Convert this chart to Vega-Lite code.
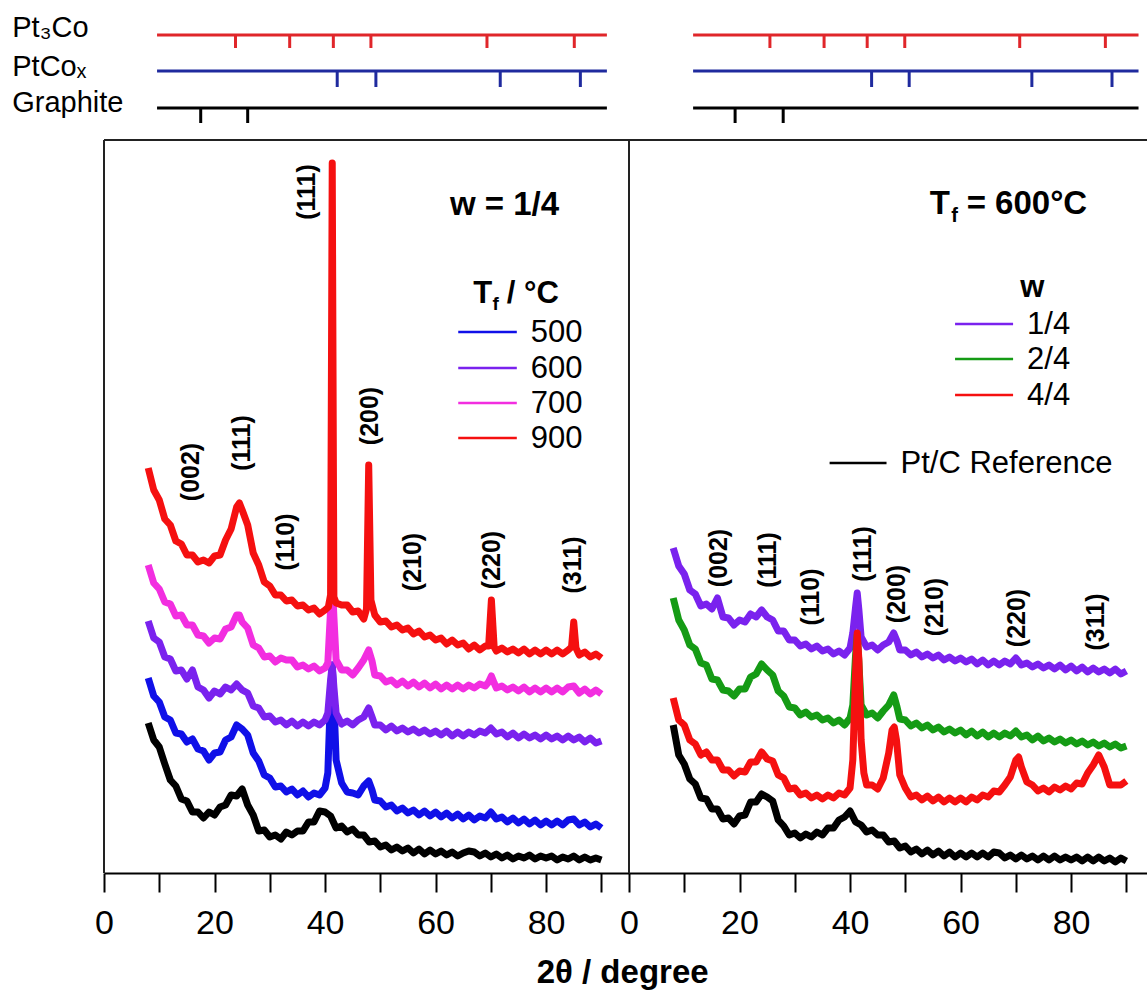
{
"$schema":"https://vega.github.io/schema/vega-lite/v6.json",
"padding":{"left":12,"top":0,"right":0,"bottom":0},
"bounds":"flush",
"spacing":0,
"title":{"text":"2θ / degree","orient":"bottom","anchor":"middle","font":"Liberation Sans","fontSize":33,"fontWeight":"bold","color":"#000","offset":17,"dx":39},
"config":{"view":{"stroke":null},"font":"Liberation Sans",
 "axisX":{"domainColor":"#000","domainWidth":2,"tickColor":"#000","tickWidth":2,"tickSize":19,"labelFont":"Liberation Sans","labelFontSize":34,"labelColor":"#000","labelPadding":14,"grid":false,"labelFlush":false,"labelOverlap":false,"title":null}},
"datasets":{
"left":[
{"s":"Pt/C","x":8,"y":152},{"s":"Pt/C","x":9,"y":135},{"s":"Pt/C","x":10,"y":128},{"s":"Pt/C","x":11,"y":111},{"s":"Pt/C","x":12,"y":95},{"s":"Pt/C","x":13,"y":89},{"s":"Pt/C","x":14,"y":76},{"s":"Pt/C","x":15,"y":74},{"s":"Pt/C","x":16,"y":63},{"s":"Pt/C","x":17,"y":63},{"s":"Pt/C","x":18,"y":57},{"s":"Pt/C","x":19,"y":63},{"s":"Pt/C","x":20,"y":60},{"s":"Pt/C","x":21,"y":68},{"s":"Pt/C","x":22,"y":70},{"s":"Pt/C","x":23,"y":80},{"s":"Pt/C","x":24,"y":79},{"s":"Pt/C","x":25,"y":86},{"s":"Pt/C","x":26,"y":70},{"s":"Pt/C","x":27,"y":60},{"s":"Pt/C","x":28,"y":44},{"s":"Pt/C","x":29,"y":45},{"s":"Pt/C","x":30,"y":38},{"s":"Pt/C","x":31,"y":40},{"s":"Pt/C","x":32,"y":36},{"s":"Pt/C","x":33,"y":43},{"s":"Pt/C","x":34,"y":40},{"s":"Pt/C","x":35,"y":44},{"s":"Pt/C","x":36,"y":44},{"s":"Pt/C","x":37,"y":53},{"s":"Pt/C","x":38,"y":53},{"s":"Pt/C","x":39,"y":64},{"s":"Pt/C","x":40,"y":63},{"s":"Pt/C","x":41,"y":59},{"s":"Pt/C","x":42,"y":47},{"s":"Pt/C","x":43,"y":49},{"s":"Pt/C","x":44,"y":43},{"s":"Pt/C","x":45,"y":46},{"s":"Pt/C","x":46,"y":40},{"s":"Pt/C","x":47,"y":40},{"s":"Pt/C","x":48,"y":33},{"s":"Pt/C","x":49,"y":34},{"s":"Pt/C","x":50,"y":28},{"s":"Pt/C","x":51,"y":30},{"s":"Pt/C","x":52,"y":25},{"s":"Pt/C","x":53,"y":28},{"s":"Pt/C","x":54,"y":24},{"s":"Pt/C","x":55,"y":27},{"s":"Pt/C","x":56,"y":22},{"s":"Pt/C","x":57,"y":26},{"s":"Pt/C","x":58,"y":21},{"s":"Pt/C","x":59,"y":25},{"s":"Pt/C","x":60,"y":21},{"s":"Pt/C","x":61,"y":24},{"s":"Pt/C","x":62,"y":20},{"s":"Pt/C","x":63,"y":23},{"s":"Pt/C","x":64,"y":19},{"s":"Pt/C","x":65,"y":22},{"s":"Pt/C","x":66,"y":24},{"s":"Pt/C","x":67,"y":23},{"s":"Pt/C","x":68,"y":19},{"s":"Pt/C","x":69,"y":22},{"s":"Pt/C","x":70,"y":18},{"s":"Pt/C","x":71,"y":21},{"s":"Pt/C","x":72,"y":17},{"s":"Pt/C","x":73,"y":20},{"s":"Pt/C","x":74,"y":16},{"s":"Pt/C","x":75,"y":19},{"s":"Pt/C","x":76,"y":17},{"s":"Pt/C","x":77,"y":20},{"s":"Pt/C","x":78,"y":16},{"s":"Pt/C","x":79,"y":19},{"s":"Pt/C","x":80,"y":17},{"s":"Pt/C","x":81,"y":19},{"s":"Pt/C","x":82,"y":15},{"s":"Pt/C","x":83,"y":18},{"s":"Pt/C","x":84,"y":16},{"s":"Pt/C","x":85,"y":19},{"s":"Pt/C","x":86,"y":15},{"s":"Pt/C","x":87,"y":18},{"s":"Pt/C","x":88,"y":15},{"s":"Pt/C","x":89,"y":17},{"s":"Pt/C","x":90,"y":15},
{"s":"T500","x":8,"y":197},{"s":"T500","x":9,"y":179},{"s":"T500","x":10,"y":173},{"s":"T500","x":11,"y":158},{"s":"T500","x":12,"y":155},{"s":"T500","x":13,"y":142},{"s":"T500","x":14,"y":141},{"s":"T500","x":15,"y":133},{"s":"T500","x":16,"y":136},{"s":"T500","x":17,"y":126},{"s":"T500","x":18,"y":124},{"s":"T500","x":19,"y":115},{"s":"T500","x":20,"y":122},{"s":"T500","x":21,"y":123},{"s":"T500","x":22,"y":135},{"s":"T500","x":23,"y":138},{"s":"T500","x":24,"y":150},{"s":"T500","x":25,"y":146},{"s":"T500","x":26,"y":140},{"s":"T500","x":27,"y":122},{"s":"T500","x":28,"y":114},{"s":"T500","x":29,"y":100},{"s":"T500","x":30,"y":97},{"s":"T500","x":31,"y":88},{"s":"T500","x":32,"y":89},{"s":"T500","x":33,"y":83},{"s":"T500","x":34,"y":86},{"s":"T500","x":35,"y":80},{"s":"T500","x":36,"y":84},{"s":"T500","x":37,"y":78},{"s":"T500","x":38,"y":82},{"s":"T500","x":39,"y":80},{"s":"T500","x":40,"y":87},{"s":"T500","x":40.5,"y":102},{"s":"T500","x":41.0,"y":182},{"s":"T500","x":41.3,"y":210},{"s":"T500","x":41.6,"y":175},{"s":"T500","x":42.0,"y":115},{"s":"T500","x":43,"y":92},{"s":"T500","x":44,"y":83},{"s":"T500","x":45,"y":82},{"s":"T500","x":46,"y":80},{"s":"T500","x":47,"y":89},{"s":"T500","x":47.9,"y":94},{"s":"T500","x":48.5,"y":85},{"s":"T500","x":49,"y":75},{"s":"T500","x":50,"y":74},{"s":"T500","x":51,"y":68},{"s":"T500","x":52,"y":70},{"s":"T500","x":53,"y":64},{"s":"T500","x":54,"y":67},{"s":"T500","x":55,"y":62},{"s":"T500","x":56,"y":65},{"s":"T500","x":57,"y":60},{"s":"T500","x":58,"y":64},{"s":"T500","x":59,"y":59},{"s":"T500","x":60,"y":63},{"s":"T500","x":61,"y":58},{"s":"T500","x":62,"y":62},{"s":"T500","x":63,"y":57},{"s":"T500","x":64,"y":61},{"s":"T500","x":65,"y":56},{"s":"T500","x":66,"y":60},{"s":"T500","x":67,"y":55},{"s":"T500","x":68,"y":59},{"s":"T500","x":69,"y":57},{"s":"T500","x":70,"y":63},{"s":"T500","x":71,"y":56},{"s":"T500","x":72,"y":58},{"s":"T500","x":73,"y":53},{"s":"T500","x":74,"y":57},{"s":"T500","x":75,"y":52},{"s":"T500","x":76,"y":56},{"s":"T500","x":77,"y":51},{"s":"T500","x":78,"y":55},{"s":"T500","x":79,"y":50},{"s":"T500","x":80,"y":54},{"s":"T500","x":81,"y":50},{"s":"T500","x":82,"y":54},{"s":"T500","x":83,"y":50},{"s":"T500","x":84,"y":55},{"s":"T500","x":85,"y":56},{"s":"T500","x":86,"y":50},{"s":"T500","x":87,"y":53},{"s":"T500","x":88,"y":48},{"s":"T500","x":89,"y":51},{"s":"T500","x":90,"y":47},
{"s":"T600","x":8,"y":254},{"s":"T600","x":9,"y":237},{"s":"T600","x":10,"y":233},{"s":"T600","x":11,"y":218},{"s":"T600","x":12,"y":216},{"s":"T600","x":13,"y":204},{"s":"T600","x":14,"y":205},{"s":"T600","x":15,"y":196},{"s":"T600","x":16,"y":205},{"s":"T600","x":17,"y":188},{"s":"T600","x":18,"y":185},{"s":"T600","x":19,"y":177},{"s":"T600","x":20,"y":184},{"s":"T600","x":21,"y":181},{"s":"T600","x":22,"y":188},{"s":"T600","x":23,"y":185},{"s":"T600","x":24,"y":191},{"s":"T600","x":25,"y":185},{"s":"T600","x":26,"y":182},{"s":"T600","x":27,"y":169},{"s":"T600","x":28,"y":167},{"s":"T600","x":29,"y":158},{"s":"T600","x":30,"y":159},{"s":"T600","x":31,"y":153},{"s":"T600","x":32,"y":155},{"s":"T600","x":33,"y":150},{"s":"T600","x":34,"y":154},{"s":"T600","x":35,"y":149},{"s":"T600","x":36,"y":153},{"s":"T600","x":37,"y":149},{"s":"T600","x":38,"y":153},{"s":"T600","x":39,"y":150},{"s":"T600","x":40,"y":155},{"s":"T600","x":40.5,"y":162},{"s":"T600","x":41.0,"y":195},{"s":"T600","x":41.3,"y":210},{"s":"T600","x":41.6,"y":188},{"s":"T600","x":42.0,"y":162},{"s":"T600","x":43,"y":151},{"s":"T600","x":44,"y":154},{"s":"T600","x":45,"y":150},{"s":"T600","x":46,"y":155},{"s":"T600","x":47,"y":158},{"s":"T600","x":47.9,"y":167},{"s":"T600","x":48.5,"y":158},{"s":"T600","x":49,"y":150},{"s":"T600","x":50,"y":150},{"s":"T600","x":51,"y":145},{"s":"T600","x":52,"y":149},{"s":"T600","x":53,"y":144},{"s":"T600","x":54,"y":147},{"s":"T600","x":55,"y":143},{"s":"T600","x":56,"y":146},{"s":"T600","x":57,"y":142},{"s":"T600","x":58,"y":145},{"s":"T600","x":59,"y":141},{"s":"T600","x":60,"y":144},{"s":"T600","x":61,"y":140},{"s":"T600","x":62,"y":144},{"s":"T600","x":63,"y":139},{"s":"T600","x":64,"y":143},{"s":"T600","x":65,"y":139},{"s":"T600","x":66,"y":143},{"s":"T600","x":67,"y":140},{"s":"T600","x":68,"y":144},{"s":"T600","x":69,"y":142},{"s":"T600","x":70,"y":147},{"s":"T600","x":71,"y":141},{"s":"T600","x":72,"y":143},{"s":"T600","x":73,"y":138},{"s":"T600","x":74,"y":142},{"s":"T600","x":75,"y":137},{"s":"T600","x":76,"y":141},{"s":"T600","x":77,"y":137},{"s":"T600","x":78,"y":140},{"s":"T600","x":79,"y":136},{"s":"T600","x":80,"y":140},{"s":"T600","x":81,"y":136},{"s":"T600","x":82,"y":139},{"s":"T600","x":83,"y":135},{"s":"T600","x":84,"y":139},{"s":"T600","x":85,"y":135},{"s":"T600","x":86,"y":138},{"s":"T600","x":87,"y":133},{"s":"T600","x":88,"y":137},{"s":"T600","x":89,"y":132},{"s":"T600","x":90,"y":134},
{"s":"T700","x":8,"y":310},{"s":"T700","x":9,"y":292},{"s":"T700","x":10,"y":286},{"s":"T700","x":11,"y":273},{"s":"T700","x":12,"y":271},{"s":"T700","x":13,"y":259},{"s":"T700","x":14,"y":260},{"s":"T700","x":15,"y":250},{"s":"T700","x":16,"y":250},{"s":"T700","x":17,"y":240},{"s":"T700","x":18,"y":239},{"s":"T700","x":19,"y":232},{"s":"T700","x":20,"y":237},{"s":"T700","x":21,"y":236},{"s":"T700","x":22,"y":246},{"s":"T700","x":23,"y":248},{"s":"T700","x":24,"y":260},{"s":"T700","x":24.5,"y":260},{"s":"T700","x":25,"y":253},{"s":"T700","x":26,"y":247},{"s":"T700","x":27,"y":230},{"s":"T700","x":28,"y":227},{"s":"T700","x":29,"y":218},{"s":"T700","x":30,"y":219},{"s":"T700","x":31,"y":213},{"s":"T700","x":32,"y":217},{"s":"T700","x":33,"y":215},{"s":"T700","x":34,"y":215},{"s":"T700","x":35,"y":208},{"s":"T700","x":36,"y":210},{"s":"T700","x":37,"y":206},{"s":"T700","x":38,"y":209},{"s":"T700","x":39,"y":204},{"s":"T700","x":40,"y":207},{"s":"T700","x":40.5,"y":212},{"s":"T700","x":41.0,"y":265},{"s":"T700","x":41.3,"y":295},{"s":"T700","x":41.6,"y":258},{"s":"T700","x":42.0,"y":215},{"s":"T700","x":43,"y":205},{"s":"T700","x":44,"y":205},{"s":"T700","x":45,"y":200},{"s":"T700","x":46,"y":207},{"s":"T700","x":47,"y":215},{"s":"T700","x":47.9,"y":225},{"s":"T700","x":48.5,"y":214},{"s":"T700","x":49,"y":200},{"s":"T700","x":50,"y":199},{"s":"T700","x":51,"y":193},{"s":"T700","x":52,"y":195},{"s":"T700","x":53,"y":190},{"s":"T700","x":54,"y":194},{"s":"T700","x":55,"y":189},{"s":"T700","x":56,"y":193},{"s":"T700","x":57,"y":188},{"s":"T700","x":58,"y":192},{"s":"T700","x":59,"y":187},{"s":"T700","x":60,"y":191},{"s":"T700","x":61,"y":186},{"s":"T700","x":62,"y":190},{"s":"T700","x":63,"y":186},{"s":"T700","x":64,"y":190},{"s":"T700","x":65,"y":186},{"s":"T700","x":66,"y":190},{"s":"T700","x":67,"y":187},{"s":"T700","x":68,"y":191},{"s":"T700","x":69,"y":189},{"s":"T700","x":69.6,"y":193},{"s":"T700","x":70.1,"y":199},{"s":"T700","x":70.6,"y":192},{"s":"T700","x":71,"y":187},{"s":"T700","x":72,"y":189},{"s":"T700","x":73,"y":185},{"s":"T700","x":74,"y":188},{"s":"T700","x":75,"y":184},{"s":"T700","x":76,"y":188},{"s":"T700","x":77,"y":183},{"s":"T700","x":78,"y":187},{"s":"T700","x":79,"y":183},{"s":"T700","x":80,"y":187},{"s":"T700","x":81,"y":183},{"s":"T700","x":82,"y":187},{"s":"T700","x":83,"y":183},{"s":"T700","x":84,"y":188},{"s":"T700","x":85,"y":189},{"s":"T700","x":86,"y":182},{"s":"T700","x":87,"y":186},{"s":"T700","x":88,"y":181},{"s":"T700","x":89,"y":185},{"s":"T700","x":90,"y":181},
{"s":"T900","x":8,"y":407},{"s":"T900","x":9,"y":385},{"s":"T900","x":10,"y":375},{"s":"T900","x":11,"y":356},{"s":"T900","x":12,"y":350},{"s":"T900","x":13,"y":334},{"s":"T900","x":14,"y":331},{"s":"T900","x":15,"y":320},{"s":"T900","x":16,"y":320},{"s":"T900","x":17,"y":313},{"s":"T900","x":18,"y":315},{"s":"T900","x":19,"y":312},{"s":"T900","x":20,"y":319},{"s":"T900","x":21,"y":320},{"s":"T900","x":22,"y":335},{"s":"T900","x":23,"y":346},{"s":"T900","x":24,"y":368},{"s":"T900","x":24.5,"y":372},{"s":"T900","x":25,"y":365},{"s":"T900","x":26,"y":350},{"s":"T900","x":27,"y":322},{"s":"T900","x":28,"y":310},{"s":"T900","x":29,"y":293},{"s":"T900","x":30,"y":289},{"s":"T900","x":31,"y":280},{"s":"T900","x":32,"y":280},{"s":"T900","x":33,"y":274},{"s":"T900","x":34,"y":275},{"s":"T900","x":35,"y":269},{"s":"T900","x":36,"y":270},{"s":"T900","x":37,"y":265},{"s":"T900","x":38,"y":267},{"s":"T900","x":39,"y":261},{"s":"T900","x":40,"y":265},{"s":"T900","x":40.6,"y":268},{"s":"T900","x":41.0,"y":280},{"s":"T900","x":41.3,"y":712},{"s":"T900","x":41.6,"y":278},{"s":"T900","x":42.0,"y":272},{"s":"T900","x":43,"y":270},{"s":"T900","x":44,"y":270},{"s":"T900","x":45,"y":263},{"s":"T900","x":46,"y":264},{"s":"T900","x":47,"y":256},{"s":"T900","x":47.5,"y":266},{"s":"T900","x":47.9,"y":410},{"s":"T900","x":48.3,"y":275},{"s":"T900","x":49,"y":260},{"s":"T900","x":50,"y":253},{"s":"T900","x":51,"y":254},{"s":"T900","x":52,"y":248},{"s":"T900","x":53,"y":250},{"s":"T900","x":54,"y":245},{"s":"T900","x":55,"y":247},{"s":"T900","x":56,"y":241},{"s":"T900","x":57,"y":244},{"s":"T900","x":58,"y":238},{"s":"T900","x":59,"y":240},{"s":"T900","x":60,"y":235},{"s":"T900","x":61,"y":237},{"s":"T900","x":62,"y":231},{"s":"T900","x":63,"y":235},{"s":"T900","x":64,"y":230},{"s":"T900","x":65,"y":232},{"s":"T900","x":66,"y":226},{"s":"T900","x":67,"y":230},{"s":"T900","x":68,"y":225},{"s":"T900","x":69,"y":229},{"s":"T900","x":69.6,"y":229},{"s":"T900","x":70.1,"y":275},{"s":"T900","x":70.6,"y":228},{"s":"T900","x":71,"y":224},{"s":"T900","x":72,"y":227},{"s":"T900","x":73,"y":223},{"s":"T900","x":74,"y":226},{"s":"T900","x":75,"y":222},{"s":"T900","x":76,"y":226},{"s":"T900","x":77,"y":221},{"s":"T900","x":78,"y":225},{"s":"T900","x":79,"y":221},{"s":"T900","x":80,"y":225},{"s":"T900","x":81,"y":221},{"s":"T900","x":82,"y":225},{"s":"T900","x":83,"y":221},{"s":"T900","x":84,"y":225},{"s":"T900","x":84.6,"y":228},{"s":"T900","x":85.0,"y":253},{"s":"T900","x":85.4,"y":227},{"s":"T900","x":86,"y":220},{"s":"T900","x":87,"y":223},{"s":"T900","x":88,"y":218},{"s":"T900","x":89,"y":221},{"s":"T900","x":90,"y":217}
],
"right":[
{"s":"Pt/C","x":8,"y":150},{"s":"Pt/C","x":9,"y":120},{"s":"Pt/C","x":10,"y":111},{"s":"Pt/C","x":11,"y":96},{"s":"Pt/C","x":12,"y":91},{"s":"Pt/C","x":13,"y":77},{"s":"Pt/C","x":14,"y":76},{"s":"Pt/C","x":15,"y":66},{"s":"Pt/C","x":16,"y":66},{"s":"Pt/C","x":17,"y":56},{"s":"Pt/C","x":18,"y":57},{"s":"Pt/C","x":19,"y":51},{"s":"Pt/C","x":20,"y":59},{"s":"Pt/C","x":21,"y":60},{"s":"Pt/C","x":22,"y":73},{"s":"Pt/C","x":23,"y":73},{"s":"Pt/C","x":24,"y":81},{"s":"Pt/C","x":25,"y":78},{"s":"Pt/C","x":26,"y":74},{"s":"Pt/C","x":27,"y":55},{"s":"Pt/C","x":28,"y":49},{"s":"Pt/C","x":29,"y":40},{"s":"Pt/C","x":30,"y":42},{"s":"Pt/C","x":31,"y":37},{"s":"Pt/C","x":32,"y":41},{"s":"Pt/C","x":33,"y":38},{"s":"Pt/C","x":34,"y":43},{"s":"Pt/C","x":35,"y":40},{"s":"Pt/C","x":36,"y":47},{"s":"Pt/C","x":37,"y":47},{"s":"Pt/C","x":38,"y":55},{"s":"Pt/C","x":39,"y":58},{"s":"Pt/C","x":40,"y":64},{"s":"Pt/C","x":41,"y":53},{"s":"Pt/C","x":42,"y":50},{"s":"Pt/C","x":43,"y":43},{"s":"Pt/C","x":44,"y":45},{"s":"Pt/C","x":45,"y":40},{"s":"Pt/C","x":46,"y":40},{"s":"Pt/C","x":47,"y":33},{"s":"Pt/C","x":48,"y":34},{"s":"Pt/C","x":49,"y":27},{"s":"Pt/C","x":50,"y":29},{"s":"Pt/C","x":51,"y":23},{"s":"Pt/C","x":52,"y":26},{"s":"Pt/C","x":53,"y":21},{"s":"Pt/C","x":54,"y":25},{"s":"Pt/C","x":55,"y":20},{"s":"Pt/C","x":56,"y":24},{"s":"Pt/C","x":57,"y":19},{"s":"Pt/C","x":58,"y":23},{"s":"Pt/C","x":59,"y":18},{"s":"Pt/C","x":60,"y":22},{"s":"Pt/C","x":61,"y":18},{"s":"Pt/C","x":62,"y":22},{"s":"Pt/C","x":63,"y":18},{"s":"Pt/C","x":64,"y":22},{"s":"Pt/C","x":65,"y":18},{"s":"Pt/C","x":66,"y":23},{"s":"Pt/C","x":67,"y":22},{"s":"Pt/C","x":68,"y":17},{"s":"Pt/C","x":69,"y":20},{"s":"Pt/C","x":70,"y":16},{"s":"Pt/C","x":71,"y":20},{"s":"Pt/C","x":72,"y":16},{"s":"Pt/C","x":73,"y":19},{"s":"Pt/C","x":74,"y":15},{"s":"Pt/C","x":75,"y":19},{"s":"Pt/C","x":76,"y":15},{"s":"Pt/C","x":77,"y":19},{"s":"Pt/C","x":78,"y":15},{"s":"Pt/C","x":79,"y":18},{"s":"Pt/C","x":80,"y":15},{"s":"Pt/C","x":81,"y":18},{"s":"Pt/C","x":82,"y":14},{"s":"Pt/C","x":83,"y":18},{"s":"Pt/C","x":84,"y":14},{"s":"Pt/C","x":85,"y":18},{"s":"Pt/C","x":86,"y":14},{"s":"Pt/C","x":87,"y":17},{"s":"Pt/C","x":88,"y":13},{"s":"Pt/C","x":89,"y":17},{"s":"Pt/C","x":90,"y":14},
{"s":"w1/4","x":8,"y":327},{"s":"w1/4","x":9,"y":309},{"s":"w1/4","x":10,"y":301},{"s":"w1/4","x":11,"y":285},{"s":"w1/4","x":12,"y":281},{"s":"w1/4","x":13,"y":269},{"s":"w1/4","x":14,"y":271},{"s":"w1/4","x":15,"y":266},{"s":"w1/4","x":16,"y":277},{"s":"w1/4","x":17,"y":258},{"s":"w1/4","x":18,"y":257},{"s":"w1/4","x":19,"y":250},{"s":"w1/4","x":20,"y":255},{"s":"w1/4","x":21,"y":253},{"s":"w1/4","x":22,"y":261},{"s":"w1/4","x":23,"y":258},{"s":"w1/4","x":24,"y":265},{"s":"w1/4","x":25,"y":258},{"s":"w1/4","x":26,"y":255},{"s":"w1/4","x":27,"y":244},{"s":"w1/4","x":28,"y":244},{"s":"w1/4","x":29,"y":235},{"s":"w1/4","x":30,"y":235},{"s":"w1/4","x":31,"y":229},{"s":"w1/4","x":32,"y":231},{"s":"w1/4","x":33,"y":226},{"s":"w1/4","x":34,"y":229},{"s":"w1/4","x":35,"y":224},{"s":"w1/4","x":36,"y":226},{"s":"w1/4","x":37,"y":221},{"s":"w1/4","x":38,"y":224},{"s":"w1/4","x":39,"y":220},{"s":"w1/4","x":40,"y":227},{"s":"w1/4","x":40.5,"y":242},{"s":"w1/4","x":41.0,"y":268},{"s":"w1/4","x":41.3,"y":282},{"s":"w1/4","x":41.6,"y":265},{"s":"w1/4","x":42.0,"y":238},{"s":"w1/4","x":43,"y":228},{"s":"w1/4","x":44,"y":230},{"s":"w1/4","x":45,"y":225},{"s":"w1/4","x":46,"y":230},{"s":"w1/4","x":47,"y":233},{"s":"w1/4","x":47.9,"y":242},{"s":"w1/4","x":48.5,"y":234},{"s":"w1/4","x":49,"y":225},{"s":"w1/4","x":50,"y":225},{"s":"w1/4","x":51,"y":220},{"s":"w1/4","x":52,"y":223},{"s":"w1/4","x":53,"y":218},{"s":"w1/4","x":54,"y":221},{"s":"w1/4","x":55,"y":217},{"s":"w1/4","x":56,"y":220},{"s":"w1/4","x":57,"y":215},{"s":"w1/4","x":58,"y":218},{"s":"w1/4","x":59,"y":214},{"s":"w1/4","x":60,"y":217},{"s":"w1/4","x":61,"y":213},{"s":"w1/4","x":62,"y":216},{"s":"w1/4","x":63,"y":211},{"s":"w1/4","x":64,"y":215},{"s":"w1/4","x":65,"y":210},{"s":"w1/4","x":66,"y":214},{"s":"w1/4","x":67,"y":210},{"s":"w1/4","x":68,"y":214},{"s":"w1/4","x":69,"y":211},{"s":"w1/4","x":70,"y":217},{"s":"w1/4","x":71,"y":210},{"s":"w1/4","x":72,"y":212},{"s":"w1/4","x":73,"y":208},{"s":"w1/4","x":74,"y":211},{"s":"w1/4","x":75,"y":207},{"s":"w1/4","x":76,"y":210},{"s":"w1/4","x":77,"y":206},{"s":"w1/4","x":78,"y":210},{"s":"w1/4","x":79,"y":205},{"s":"w1/4","x":80,"y":209},{"s":"w1/4","x":81,"y":204},{"s":"w1/4","x":82,"y":208},{"s":"w1/4","x":83,"y":203},{"s":"w1/4","x":84,"y":207},{"s":"w1/4","x":85,"y":203},{"s":"w1/4","x":86,"y":206},{"s":"w1/4","x":87,"y":202},{"s":"w1/4","x":88,"y":206},{"s":"w1/4","x":89,"y":201},{"s":"w1/4","x":90,"y":204},
{"s":"w2/4","x":8,"y":277},{"s":"w2/4","x":9,"y":255},{"s":"w2/4","x":10,"y":245},{"s":"w2/4","x":11,"y":230},{"s":"w2/4","x":12,"y":226},{"s":"w2/4","x":13,"y":212},{"s":"w2/4","x":14,"y":210},{"s":"w2/4","x":15,"y":196},{"s":"w2/4","x":16,"y":195},{"s":"w2/4","x":17,"y":185},{"s":"w2/4","x":18,"y":184},{"s":"w2/4","x":19,"y":179},{"s":"w2/4","x":20,"y":186},{"s":"w2/4","x":21,"y":186},{"s":"w2/4","x":22,"y":198},{"s":"w2/4","x":23,"y":201},{"s":"w2/4","x":24,"y":211},{"s":"w2/4","x":25,"y":205},{"s":"w2/4","x":26,"y":200},{"s":"w2/4","x":27,"y":184},{"s":"w2/4","x":28,"y":179},{"s":"w2/4","x":29,"y":168},{"s":"w2/4","x":30,"y":167},{"s":"w2/4","x":31,"y":160},{"s":"w2/4","x":32,"y":163},{"s":"w2/4","x":33,"y":158},{"s":"w2/4","x":34,"y":160},{"s":"w2/4","x":35,"y":155},{"s":"w2/4","x":36,"y":157},{"s":"w2/4","x":37,"y":152},{"s":"w2/4","x":38,"y":155},{"s":"w2/4","x":39,"y":150},{"s":"w2/4","x":40,"y":157},{"s":"w2/4","x":40.5,"y":170},{"s":"w2/4","x":41.0,"y":220},{"s":"w2/4","x":41.3,"y":240},{"s":"w2/4","x":41.6,"y":212},{"s":"w2/4","x":42.0,"y":170},{"s":"w2/4","x":43,"y":160},{"s":"w2/4","x":44,"y":162},{"s":"w2/4","x":45,"y":157},{"s":"w2/4","x":46,"y":164},{"s":"w2/4","x":47,"y":170},{"s":"w2/4","x":47.9,"y":180},{"s":"w2/4","x":48.5,"y":168},{"s":"w2/4","x":49,"y":156},{"s":"w2/4","x":50,"y":155},{"s":"w2/4","x":51,"y":149},{"s":"w2/4","x":52,"y":152},{"s":"w2/4","x":53,"y":147},{"s":"w2/4","x":54,"y":150},{"s":"w2/4","x":55,"y":145},{"s":"w2/4","x":56,"y":148},{"s":"w2/4","x":57,"y":143},{"s":"w2/4","x":58,"y":146},{"s":"w2/4","x":59,"y":142},{"s":"w2/4","x":60,"y":145},{"s":"w2/4","x":61,"y":140},{"s":"w2/4","x":62,"y":144},{"s":"w2/4","x":63,"y":139},{"s":"w2/4","x":64,"y":143},{"s":"w2/4","x":65,"y":138},{"s":"w2/4","x":66,"y":142},{"s":"w2/4","x":67,"y":138},{"s":"w2/4","x":68,"y":142},{"s":"w2/4","x":69,"y":139},{"s":"w2/4","x":70,"y":144},{"s":"w2/4","x":71,"y":138},{"s":"w2/4","x":72,"y":140},{"s":"w2/4","x":73,"y":135},{"s":"w2/4","x":74,"y":139},{"s":"w2/4","x":75,"y":134},{"s":"w2/4","x":76,"y":137},{"s":"w2/4","x":77,"y":133},{"s":"w2/4","x":78,"y":136},{"s":"w2/4","x":79,"y":132},{"s":"w2/4","x":80,"y":135},{"s":"w2/4","x":81,"y":131},{"s":"w2/4","x":82,"y":134},{"s":"w2/4","x":83,"y":130},{"s":"w2/4","x":84,"y":133},{"s":"w2/4","x":85,"y":129},{"s":"w2/4","x":86,"y":132},{"s":"w2/4","x":87,"y":128},{"s":"w2/4","x":88,"y":131},{"s":"w2/4","x":89,"y":127},{"s":"w2/4","x":90,"y":129},
{"s":"w4/4","x":8,"y":177},{"s":"w4/4","x":9,"y":155},{"s":"w4/4","x":10,"y":150},{"s":"w4/4","x":11,"y":135},{"s":"w4/4","x":12,"y":131},{"s":"w4/4","x":13,"y":120},{"s":"w4/4","x":14,"y":123},{"s":"w4/4","x":15,"y":115},{"s":"w4/4","x":16,"y":115},{"s":"w4/4","x":17,"y":105},{"s":"w4/4","x":18,"y":105},{"s":"w4/4","x":19,"y":99},{"s":"w4/4","x":20,"y":104},{"s":"w4/4","x":21,"y":103},{"s":"w4/4","x":22,"y":113},{"s":"w4/4","x":23,"y":113},{"s":"w4/4","x":24,"y":123},{"s":"w4/4","x":25,"y":116},{"s":"w4/4","x":26,"y":114},{"s":"w4/4","x":27,"y":100},{"s":"w4/4","x":28,"y":97},{"s":"w4/4","x":29,"y":86},{"s":"w4/4","x":30,"y":87},{"s":"w4/4","x":31,"y":80},{"s":"w4/4","x":32,"y":82},{"s":"w4/4","x":33,"y":77},{"s":"w4/4","x":34,"y":80},{"s":"w4/4","x":35,"y":76},{"s":"w4/4","x":36,"y":80},{"s":"w4/4","x":37,"y":77},{"s":"w4/4","x":38,"y":82},{"s":"w4/4","x":39,"y":80},{"s":"w4/4","x":40,"y":87},{"s":"w4/4","x":40.5,"y":115},{"s":"w4/4","x":41.0,"y":202},{"s":"w4/4","x":41.3,"y":242},{"s":"w4/4","x":41.6,"y":215},{"s":"w4/4","x":42.0,"y":135},{"s":"w4/4","x":42.5,"y":102},{"s":"w4/4","x":43,"y":90},{"s":"w4/4","x":44,"y":90},{"s":"w4/4","x":45,"y":86},{"s":"w4/4","x":46,"y":97},{"s":"w4/4","x":47,"y":122},{"s":"w4/4","x":47.6,"y":145},{"s":"w4/4","x":48.0,"y":148},{"s":"w4/4","x":48.4,"y":135},{"s":"w4/4","x":49,"y":100},{"s":"w4/4","x":50,"y":87},{"s":"w4/4","x":51,"y":78},{"s":"w4/4","x":52,"y":80},{"s":"w4/4","x":53,"y":75},{"s":"w4/4","x":54,"y":79},{"s":"w4/4","x":55,"y":74},{"s":"w4/4","x":56,"y":78},{"s":"w4/4","x":57,"y":73},{"s":"w4/4","x":58,"y":77},{"s":"w4/4","x":59,"y":73},{"s":"w4/4","x":60,"y":77},{"s":"w4/4","x":61,"y":73},{"s":"w4/4","x":62,"y":78},{"s":"w4/4","x":63,"y":75},{"s":"w4/4","x":64,"y":80},{"s":"w4/4","x":65,"y":78},{"s":"w4/4","x":66,"y":84},{"s":"w4/4","x":67,"y":83},{"s":"w4/4","x":68,"y":90},{"s":"w4/4","x":69,"y":98},{"s":"w4/4","x":70,"y":115},{"s":"w4/4","x":70.5,"y":118},{"s":"w4/4","x":71,"y":108},{"s":"w4/4","x":72,"y":93},{"s":"w4/4","x":73,"y":90},{"s":"w4/4","x":74,"y":84},{"s":"w4/4","x":75,"y":87},{"s":"w4/4","x":76,"y":83},{"s":"w4/4","x":77,"y":88},{"s":"w4/4","x":78,"y":85},{"s":"w4/4","x":79,"y":89},{"s":"w4/4","x":80,"y":86},{"s":"w4/4","x":81,"y":92},{"s":"w4/4","x":82,"y":91},{"s":"w4/4","x":83,"y":102},{"s":"w4/4","x":84,"y":110},{"s":"w4/4","x":85,"y":120},{"s":"w4/4","x":86,"y":108},{"s":"w4/4","x":87,"y":90},{"s":"w4/4","x":88,"y":90},{"s":"w4/4","x":89,"y":90},{"s":"w4/4","x":90,"y":94}
]
},
"hconcat":[
{
"width":525,"height":873,
"layer":[
{"data":{"values":[{"edge":"left","x":0,"x2":0,"y":2,"y2":735},{"edge":"top","x":0,"x2":95,"y":735,"y2":735}]},
 "mark":{"type":"rule","stroke":"#222222","strokeWidth":2},
 "encoding":{"x":{"field":"x","type":"quantitative","scale":{"domain":[0,95],"nice":false,"zero":false},
   "axis":{"values":[0,5,10,15,20,25,30,35,40,45,50,55,60,65,70,75,80,85,90],"labelExpr":"datum.value % 20 === 0 ? datum.label : ''","encode":{"ticks":{"update":{"y2":{"signal":"datum.value % 20 === 0 ? 19 : 10"}}}}}},
  "x2":{"field":"x2"},"y":{"field":"y","type":"quantitative","scale":{"domain":[2,875],"nice":false,"zero":false},"axis":null},"y2":{"field":"y2"}}},
{"data":{"values":[{"ph":"Pt3Co","x":9.6,"x2":91,"y":840},{"ph":"PtCox","x":9.6,"x2":91,"y":804},{"ph":"Graphite","x":9.6,"x2":91,"y":767}]},
 "mark":{"type":"rule","strokeWidth":3,"clip":false},
 "encoding":{"x":{"field":"x","type":"quantitative"},"x2":{"field":"x2"},"y":{"field":"y","type":"quantitative","axis":null},
  "color":{"field":"ph","type":"nominal","legend":null,"scale":{"domain":["Pt/C","T500","T600","T700","T900","w1/4","w2/4","w4/4","Pt3Co","PtCox","Graphite"],"range":["#000000","#1010e8","#7a22ee","#f22ee0","#f51010","#7a22ee","#159b15","#f51010","#e0262a","#1f2a9e","#000000"]}}}},
{"data":{"values":[{"ph":"Pt3Co","x":23.8,"y":840,"y2":827},{"ph":"Pt3Co","x":33.6,"y":840,"y2":827},{"ph":"Pt3Co","x":41.5,"y":840,"y2":827},{"ph":"Pt3Co","x":48.3,"y":840,"y2":827},{"ph":"Pt3Co","x":69.3,"y":840,"y2":827},{"ph":"Pt3Co","x":85.1,"y":840,"y2":827},{"ph":"PtCox","x":42.2,"y":804,"y2":788},{"ph":"PtCox","x":49.2,"y":804,"y2":788},{"ph":"PtCox","x":71.7,"y":804,"y2":788},{"ph":"PtCox","x":86.2,"y":804,"y2":788},{"ph":"Graphite","x":17.5,"y":767,"y2":752},{"ph":"Graphite","x":26.0,"y":767,"y2":752}]},
 "mark":{"type":"rule","strokeWidth":3,"clip":false},
 "encoding":{"x":{"field":"x","type":"quantitative"},"y":{"field":"y","type":"quantitative","axis":null},"y2":{"field":"y2"},"color":{"field":"ph","type":"nominal","legend":null}}},
{"data":{"values":[{"t":"Pt₃Co","x":-16.6,"y":838},{"t":"PtCoₓ","x":-16.6,"y":799},{"t":"Graphite","x":-16.6,"y":763}]},
 "mark":{"type":"text","font":"Liberation Sans","fontSize":29,"align":"left","baseline":"alphabetic","color":"#000","clip":false},
 "encoding":{"x":{"field":"x","type":"quantitative"},"y":{"field":"y","type":"quantitative","axis":null},"text":{"field":"t"}}},
{"data":{"name":"left"},
 "mark":{"type":"line","strokeWidth":7,"strokeJoin":"round","clip":false},
 "encoding":{"x":{"field":"x","type":"quantitative"},"y":{"field":"y","type":"quantitative","axis":null},"color":{"field":"s","type":"nominal","legend":null}}},
{"data":{"values":[{"t":"(002)","x":15.7,"y":403},{"t":"(111)","x":24.9,"y":432},{"t":"(110)","x":32.9,"y":333},{"t":"(111)","x":36.7,"y":683},{"t":"(200)","x":48.1,"y":459},{"t":"(210)","x":55.9,"y":313},{"t":"(220)","x":70.2,"y":315},{"t":"(311)","x":84.9,"y":310}]},
 "mark":{"type":"text","font":"Liberation Sans","fontSize":25,"fontWeight":"bold","angle":270,"align":"center","baseline":"middle","color":"#000","clip":false},
 "encoding":{"x":{"field":"x","type":"quantitative"},"y":{"field":"y","type":"quantitative","axis":null},"text":{"field":"t"}}},
{"data":{"values":[{"t":"w = 1/4","x":62.6,"y":660}]},
 "mark":{"type":"text","font":"Liberation Sans","fontSize":33,"fontWeight":"bold","align":"left","baseline":"alphabetic","color":"#000","clip":false},
 "encoding":{"x":{"field":"x","type":"quantitative"},"y":{"field":"y","type":"quantitative","axis":null},"text":{"field":"t"}}},
{"data":{"values":[{"t":"T","x":66.8,"y":572},{"t":"/ °C","x":72.9,"y":572}]},
 "mark":{"type":"text","font":"Liberation Sans","fontSize":31,"fontWeight":"bold","align":"left","baseline":"alphabetic","color":"#000","clip":false},
 "encoding":{"x":{"field":"x","type":"quantitative"},"y":{"field":"y","type":"quantitative","axis":null},"text":{"field":"t"}}},
{"data":{"values":[{"t":"f","x":70.3,"y":565}]},
 "mark":{"type":"text","font":"Liberation Sans","fontSize":19,"fontWeight":"bold","align":"left","baseline":"alphabetic","color":"#000","clip":false},
 "encoding":{"x":{"field":"x","type":"quantitative"},"y":{"field":"y","type":"quantitative","axis":null},"text":{"field":"t"}}},
{"data":{"values":[{"s":"T500","lab":"500","x":64.1,"x2":74.7,"y":543},{"s":"T600","lab":"600","x":64.1,"x2":74.7,"y":507},{"s":"T700","lab":"700","x":64.1,"x2":74.7,"y":472},{"s":"T900","lab":"900","x":64.1,"x2":74.7,"y":437}]},
 "layer":[
  {"mark":{"type":"rule","strokeWidth":2.5},"encoding":{"x":{"field":"x","type":"quantitative"},"x2":{"field":"x2"},"y":{"field":"y","type":"quantitative","axis":null},"color":{"field":"s","type":"nominal","legend":null}}},
  {"mark":{"type":"text","font":"Liberation Sans","fontSize":31,"align":"left","baseline":"middle","dx":14,"dy":1,"color":"#000"},"encoding":{"x":{"field":"x2","type":"quantitative"},"y":{"field":"y","type":"quantitative","axis":null},"text":{"field":"lab"}}}
 ]}
]
},
{
"width":525,"height":873,
"layer":[
{"data":{"values":[{"edge":"divider","x":0,"x2":0,"y":2,"y2":735},{"edge":"top","x":0,"x2":95,"y":735,"y2":735}]},
 "mark":{"type":"rule","stroke":"#222222","strokeWidth":2},
 "encoding":{"x":{"field":"x","type":"quantitative","scale":{"domain":[0,95],"nice":false,"zero":false},
   "axis":{"values":[0,5,10,15,20,25,30,35,40,45,50,55,60,65,70,75,80,85,90,95],"labelExpr":"datum.value % 20 === 0 ? datum.label : ''","encode":{"ticks":{"update":{"y2":{"signal":"datum.value % 20 === 0 ? 19 : 10"}}}}}},
  "x2":{"field":"x2"},"y":{"field":"y","type":"quantitative","scale":{"domain":[2,875],"nice":false,"zero":false},"axis":null},"y2":{"field":"y2"}}},
{"data":{"values":[{"ph":"Pt3Co","x":11.6,"x2":92.2,"y":840},{"ph":"PtCox","x":11.6,"x2":92.2,"y":804},{"ph":"Graphite","x":11.6,"x2":92.2,"y":767}]},
 "mark":{"type":"rule","strokeWidth":3,"clip":false},
 "encoding":{"x":{"field":"x","type":"quantitative"},"x2":{"field":"x2"},"y":{"field":"y","type":"quantitative","axis":null},
  "color":{"field":"ph","type":"nominal","legend":null,"scale":{"domain":["Pt/C","T500","T600","T700","T900","w1/4","w2/4","w4/4","Pt3Co","PtCox","Graphite"],"range":["#000000","#1010e8","#7a22ee","#f22ee0","#f51010","#7a22ee","#159b15","#f51010","#e0262a","#1f2a9e","#000000"]}}}},
{"data":{"values":[{"ph":"Pt3Co","x":25.5,"y":840,"y2":827},{"ph":"Pt3Co","x":35.3,"y":840,"y2":827},{"ph":"Pt3Co","x":43.1,"y":840,"y2":827},{"ph":"Pt3Co","x":49.9,"y":840,"y2":827},{"ph":"Pt3Co","x":70.7,"y":840,"y2":827},{"ph":"Pt3Co","x":86.2,"y":840,"y2":827},{"ph":"PtCox","x":43.9,"y":804,"y2":788},{"ph":"PtCox","x":50.7,"y":804,"y2":788},{"ph":"PtCox","x":72.9,"y":804,"y2":788},{"ph":"PtCox","x":87.4,"y":804,"y2":788},{"ph":"Graphite","x":19.2,"y":767,"y2":752},{"ph":"Graphite","x":27.9,"y":767,"y2":752}]},
 "mark":{"type":"rule","strokeWidth":3,"clip":false},
 "encoding":{"x":{"field":"x","type":"quantitative"},"y":{"field":"y","type":"quantitative","axis":null},"y2":{"field":"y2"},"color":{"field":"ph","type":"nominal","legend":null}}},
{"data":{"name":"right"},
 "mark":{"type":"line","strokeWidth":7,"strokeJoin":"round","clip":false},
 "encoding":{"x":{"field":"x","type":"quantitative"},"y":{"field":"y","type":"quantitative","axis":null},"color":{"field":"s","type":"nominal","legend":null}}},
{"data":{"values":[{"t":"(002)","x":16.3,"y":317},{"t":"(111)","x":25.2,"y":315},{"t":"(110)","x":33.0,"y":278},{"t":"(111)","x":42.3,"y":321},{"t":"(200)","x":48.5,"y":281},{"t":"(210)","x":55.3,"y":268},{"t":"(220)","x":70.2,"y":257},{"t":"(311)","x":84.5,"y":253}]},
 "mark":{"type":"text","font":"Liberation Sans","fontSize":25,"fontWeight":"bold","angle":270,"align":"center","baseline":"middle","color":"#000","clip":false},
 "encoding":{"x":{"field":"x","type":"quantitative"},"y":{"field":"y","type":"quantitative","axis":null},"text":{"field":"t"}}},
{"data":{"values":[{"t":"T","x":54.4,"y":661},{"t":"= 600°C","x":61.1,"y":661}]},
 "mark":{"type":"text","font":"Liberation Sans","fontSize":33,"fontWeight":"bold","align":"left","baseline":"alphabetic","color":"#000","clip":false},
 "encoding":{"x":{"field":"x","type":"quantitative"},"y":{"field":"y","type":"quantitative","axis":null},"text":{"field":"t"}}},
{"data":{"values":[{"t":"w","x":70.8,"y":578}]},
 "mark":{"type":"text","font":"Liberation Sans","fontSize":31,"fontWeight":"bold","align":"left","baseline":"alphabetic","color":"#000","clip":false},
 "encoding":{"x":{"field":"x","type":"quantitative"},"y":{"field":"y","type":"quantitative","axis":null},"text":{"field":"t"}}},
{"data":{"values":[{"t":"f","x":58.3,"y":653}]},
 "mark":{"type":"text","font":"Liberation Sans","fontSize":20,"fontWeight":"bold","align":"left","baseline":"alphabetic","color":"#000","clip":false},
 "encoding":{"x":{"field":"x","type":"quantitative"},"y":{"field":"y","type":"quantitative","axis":null},"text":{"field":"t"}}},
{"data":{"values":[{"s":"w1/4","lab":"1/4","x":59,"x2":69.5,"y":551},{"s":"w2/4","lab":"2/4","x":59,"x2":69.5,"y":516},{"s":"w4/4","lab":"4/4","x":59,"x2":69.5,"y":480},{"s":"Pt/C","lab":"Pt/C Reference","x":36.3,"x2":46.6,"y":412}]},
 "layer":[
  {"mark":{"type":"rule","strokeWidth":2.5},"encoding":{"x":{"field":"x","type":"quantitative"},"x2":{"field":"x2"},"y":{"field":"y","type":"quantitative","axis":null},"color":{"field":"s","type":"nominal","legend":null}}},
  {"mark":{"type":"text","font":"Liberation Sans","fontSize":31,"align":"left","baseline":"middle","dx":14,"dy":1,"color":"#000"},"encoding":{"x":{"field":"x2","type":"quantitative"},"y":{"field":"y","type":"quantitative","axis":null},"text":{"field":"lab"}}}
 ]}
]
}
]
}
